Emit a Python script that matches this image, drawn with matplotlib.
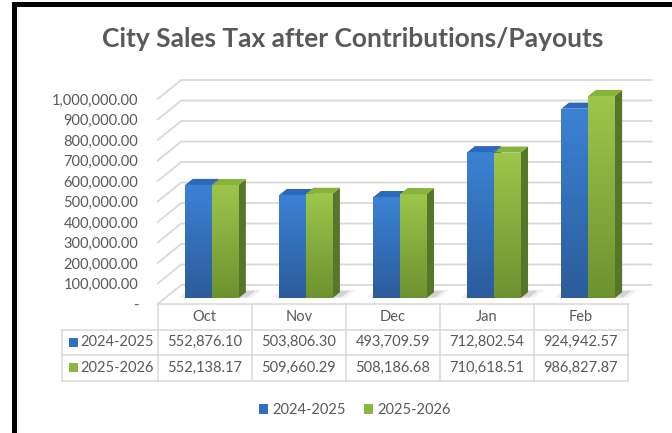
import matplotlib

matplotlib.use("Agg")

import matplotlib.pyplot as plt
import matplotlib.transforms as mtransforms
import numpy as np
from matplotlib.colors import LinearSegmentedColormap
from matplotlib.patches import Patch, Polygon, Rectangle


months = ["Oct", "Nov", "Dec", "Jan", "Feb"]
series_names = ["2024-2025", "2025-2026"]
sales_2024_2025 = [552876.10, 503806.30, 493709.59, 712802.54, 924942.57]
sales_2025_2026 = [552138.17, 509660.29, 508186.68, 710618.51, 986827.87]
value_ticks = [0, 100000, 200000, 300000, 400000, 500000,
               600000, 700000, 800000, 900000, 1000000]

TEXT = "#595959"
GRID = "#d9d9d9"
W, H = 672, 433

plt.rcParams["font.family"] = ["Lato", "DejaVu Sans"]

fig = plt.figure(figsize=(W / 100, H / 100), dpi=100)
fig.patch.set_facecolor("white")

# front plane of the 3d plot: x 157.7..628 px, value 0 at y=304, 1M at y=99
ax = fig.add_axes([157.7 / W, (H - 304) / H, 470.3 / W, 205 / H])
ax.set_xlim(-0.5, 4.5)
ax.set_ylim(0, 1000000)
ax.set_autoscale_on(False)
ax.patch.set_visible(False)
for spine in ax.spines.values():
    spine.set_visible(False)
ax.set_xticks([])
ax.set_yticks(value_ticks)
ax.yaxis.set_major_formatter(lambda v, pos: "-" if v == 0 else f"{v:,.2f}")
ax.tick_params(axis="y", length=0, pad=14, labelsize=10.5, labelcolor=TEXT)

DEPTH_DX, DEPTH_DY = 23.5, 19.0  # px, full floor depth (oblique)
ident = mtransforms.IdentityTransform()


def proj(x, v, d):
    px, py = ax.transData.transform((x, v))
    return px + DEPTH_DX * d, py + DEPTH_DY * d


def depth_trans(d):
    return ax.transData + mtransforms.ScaledTranslation(
        DEPTH_DX * d / 100, DEPTH_DY * d / 100, fig.dpi_scale_trans)


# side wall + back wall gridlines
for v in value_ticks:
    p0 = proj(-0.5, v, 0)
    p1 = proj(-0.5, v, 1)
    p2 = proj(4.5, v, 1)
    ax.add_line(plt.Line2D([p0[0], p1[0], p2[0]], [p0[1], p1[1], p2[1]],
                           transform=ident, color=GRID, lw=1.3,
                           clip_on=False, zorder=1))

# bars
D0, D1 = 0.3, 0.62
bar_w = 0.28
x = np.arange(len(months))
grad = np.linspace(0, 1, 64).reshape(-1, 1)
styles = [
    # front bottom, front top, top face, side face
    ("#2c5c9b", "#3b82d5", "#2d69ba", "#234a7e"),
    ("#6d9230", "#9dc64c", "#88b43c", "#56772a"),
]
front = depth_trans(D0)

for i in range(len(months)):
    x0 = x[i] - bar_w - 0.005
    x1 = x[i] + bar_w + 0.005
    # soft shadow at the base of each pair
    for grow, alpha in [(0.0, 0.16), (0.05, 0.08)]:
        shadow = [proj(x0 - 0.03 - grow, 0, D0 + 0.04),
                  proj(x1 + 0.08 + grow, 0, D0 + 0.04),
                  proj(x1 + 0.08 + grow, 0, D1 + 0.08 + grow),
                  proj(x0 - 0.03 - grow, 0, D1 + 0.08 + grow)]
        ax.add_patch(Polygon(shadow, closed=True, transform=ident,
                             facecolor="#404040", edgecolor="none",
                             alpha=alpha, clip_on=False, zorder=2))

for k, values in enumerate([sales_2024_2025, sales_2025_2026]):
    bottom_c, top_c, lid_c, side_c = styles[k]
    cmap = LinearSegmentedColormap.from_list(f"s{k}", [bottom_c, top_c])
    offs = x + (k - 0.5) * (bar_w + 0.005)
    z = 3 + k
    bars = ax.bar(offs, values, width=bar_w, color=top_c, transform=front,
                  clip_on=False, zorder=z)
    for rect, xc, v in zip(bars, offs, values):
        l, r = xc - bar_w / 2, xc + bar_w / 2
        im = ax.imshow(grad, cmap=cmap, extent=(l, r, 0, v), origin="lower",
                       aspect="auto", transform=front, zorder=z + 0.1,
                       interpolation="bilinear")
        im.set_clip_path(rect)
        side = [proj(r, 0, D0), proj(r, v, D0), proj(r, v, D1), proj(r, 0, D1)]
        ax.add_patch(Polygon(side, closed=True, transform=ident,
                             facecolor=side_c, edgecolor="none",
                             clip_on=False, zorder=z - 0.05))
        lid = [proj(l, v, D0), proj(r, v, D0), proj(r, v, D1), proj(l, v, D1)]
        ax.add_patch(Polygon(lid, closed=True, transform=ident,
                             facecolor=lid_c, edgecolor="none",
                             clip_on=False, zorder=z + 0.2))

# data table below the floor
tab = mtransforms.blended_transform_factory(ax.transData, fig.transFigure)


def fy(py):
    return 1 - py / H


row_edges = [304, 329.5, 355, 380.5]
label_left = -1.52
line_kw = dict(transform=tab, color=GRID, lw=1.1, clip_on=False, zorder=1)
ax.plot([-0.5, 4.5], [fy(row_edges[0])] * 2, **line_kw)
for py in row_edges[1:]:
    ax.plot([label_left, 4.5], [fy(py)] * 2, **line_kw)
for xe in np.arange(-0.5, 5, 1.0):
    ax.plot([xe, xe], [fy(row_edges[0]), fy(row_edges[-1])], **line_kw)
ax.plot([label_left, label_left], [fy(row_edges[1]), fy(row_edges[-1])],
        **line_kw)

for i, m in enumerate(months):
    ax.text(i, fy((row_edges[0] + row_edges[1]) / 2), m, transform=tab,
            ha="center", va="center", color=TEXT, fontsize=10.5)
key_colors = ["#2f6fc0", "#8ab83e"]
for k, (name, values) in enumerate(zip(series_names,
                                       [sales_2024_2025, sales_2025_2026])):
    yc = fy((row_edges[k + 1] + row_edges[k + 2]) / 2)
    ax.add_patch(Rectangle((label_left + 0.075, yc - 4.7 / H), 0.1, 9.4 / H,
                           transform=tab, facecolor=key_colors[k],
                           edgecolor="none", clip_on=False))
    ax.text(label_left + 0.2, yc, name, transform=tab, ha="left",
            va="center", color=TEXT, fontsize=10.5)
    for i, v in enumerate(values):
        ax.text(i, yc, f"{v:,.2f}", transform=tab, ha="center", va="center",
                color=TEXT, fontsize=10.5)

# title, legend, frame
fig.text(353 / W, fy(39), "City Sales Tax after Contributions/Payouts",
         ha="center", va="center", fontsize=19, fontweight="bold",
         color=TEXT)

handles = [Patch(facecolor=c, edgecolor="none") for c in key_colors]
leg = fig.legend(handles, series_names, loc="center",
                 bbox_to_anchor=(355 / W, fy(410)), ncol=2, frameon=False,
                 fontsize=10.5, handlelength=0.65, handleheight=0.65,
                 handletextpad=0.3, columnspacing=1.2)
for t in leg.get_texts():
    t.set_color(TEXT)

fig.add_artist(Rectangle((14 / W, -0.1), 1.2, fy(4) + 0.1,
                         transform=fig.transFigure, fill=False,
                         edgecolor="black", lw=3.6))

fig.savefig("out.png", dpi=100)
